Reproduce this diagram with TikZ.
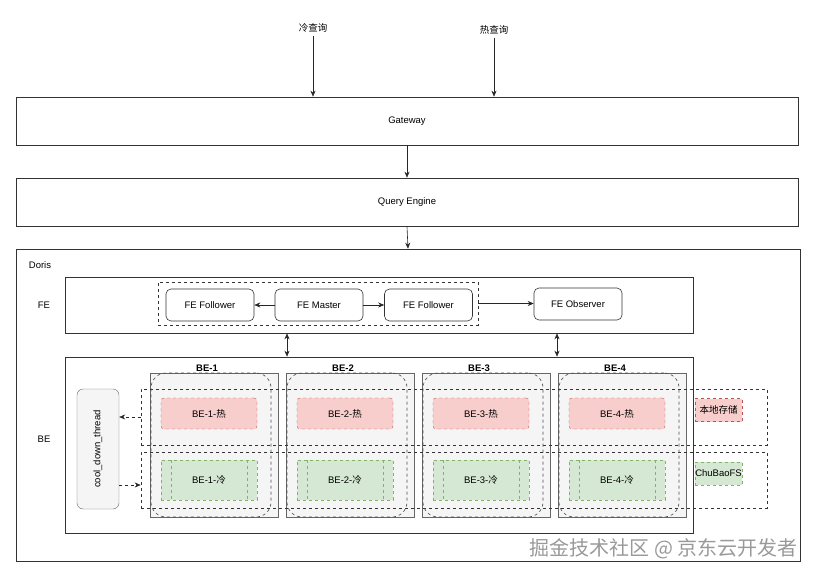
\documentclass[tikz,border=0pt]{standalone}
\usepackage{fontspec}
\setmainfont{Liberation Sans}
\newfontfamily\cjk{Noto Sans CJK SC}
\usetikzlibrary{arrows.meta,calc}

\definecolor{hotfill}{HTML}{F8CECC}
\definecolor{hotline}{HTML}{B85450}
\definecolor{coldfill}{HTML}{D5E8D4}
\definecolor{coldline}{HTML}{82B366}
\definecolor{grayfill}{HTML}{F5F5F5}
\definecolor{grayline}{HTML}{666666}

\tikzset{
  every node/.style={font=\fontsize{9.5}{11}\selectfont},
  box/.style={draw=black!80, line width=0.6pt, inner sep=0pt},
  rbox/.style={box, rounded corners=5pt, minimum width=88pt, minimum height=32pt},
  grp/.style={draw=black!80, dashed, line width=0.6pt, inner sep=0pt},
  hotbox/.style={draw=hotline, fill=hotfill, dashed, rounded corners=3pt, inner sep=0pt},
  coldbox/.style={draw=coldline, fill=coldfill, dashed, inner sep=0pt},
  colbox/.style={draw=grayline, fill=grayfill, line width=0.5pt, inner sep=0pt, minimum width=128pt, minimum height=144pt},
  arr/.style={-{Stealth[length=6pt,width=5pt]}, line width=0.6pt, black!85},
  dblarr/.style={{Stealth[length=6pt,width=5pt]}-{Stealth[length=6pt,width=5pt]}, line width=0.6pt, black!85},
}

\begin{document}
\begin{tikzpicture}[x=1pt,y=-1pt]
\useasboundingbox (0,0) rectangle (817,578);

% queries and top layers
\node (qcold) at (313,28) {\cjk 冷查询};
\node (qhot) at (494,30) {\cjk 热查询};
\node[box, minimum width=782pt, minimum height=48pt] (gw) at (407,121) {Gateway};
\node[box, minimum width=782pt, minimum height=48pt] (qe) at (407,202) {Query Engine};
\node[box, minimum width=784pt, minimum height=312pt] (doris) at (408,405) {};
\node (dorislbl) at (40,265) {Doris};

\draw[arr] (qcold.south) -- (qcold.south |- gw.north);
\draw[arr] (qhot.south) -- (qhot.south |- gw.north);
\draw[arr] (gw.south) -- (qe.north);
\draw[arr] (qe.south) -- (doris.north);

% FE
\node[box, minimum width=628pt, minimum height=56pt] (fe) at (379,305) {};
\node (felbl) at (44,305) {FE};
\node[grp, minimum width=320pt, minimum height=43pt] (fegrp) at (318,303.5) {};
\node[rbox] (fef1) at (210,305) {FE Follower};
\node[rbox] (fem) at (319,305) {FE Master};
\node[rbox] (fef2) at (428.5,305) {FE Follower};
\node[rbox] (feo) at (578,304) {FE Observer};
\draw[arr] (fem.west) -- (fef1.east);
\draw[arr] (fem.east) -- (fef2.west);
\draw[arr] (fegrp.east) -- (fegrp.east -| feo.west);

% BE
\node[box, minimum width=628pt, minimum height=176pt] (be) at (379,445) {};
\node (belbl) at (44,439) {BE};
\draw[dblarr] ([xshift=-92pt]fe.south) -- ([xshift=-92pt]be.north);
\draw[dblarr] ([xshift=178pt]fe.south) -- ([xshift=178pt]be.north);

\foreach \k in {0,1,2,3}
  \node[colbox] (col\k) at (214+136*\k,445) {};

\node[grp, minimum width=626pt, minimum height=56pt] (hotrow) at (454,417) {};
\node[grp, minimum width=626pt, minimum height=56pt] (coldrow) at (454,480) {};

\foreach \k [evaluate=\k as \n using int(\k+1)] in {0,1,2,3} {
  \node[grp, draw=black!70, rounded corners=15pt, minimum width=120pt, minimum height=144pt] (node\k) at (211+136*\k,445) {};
  \node[font=\fontsize{9.5}{11}\selectfont\bfseries] (lbl\k) at (207+136*\k,368) {BE-\n};
  \node[hotbox, minimum width=96pt, minimum height=31pt] (hot\k) at (209+136*\k,413.5) {BE-\n-{\cjk 热}};
  \node[coldbox, minimum width=96pt, minimum height=40pt] (cold\k) at (209+136*\k,480) {BE-\n-{\cjk 冷}};
  \draw[coldline, dashed] ([xshift=10pt]cold\k.north west) -- ([xshift=10pt]cold\k.south west);
  \draw[coldline, dashed] ([xshift=-10pt]cold\k.north east) -- ([xshift=-10pt]cold\k.south east);
}

\node[hotbox, rounded corners=0pt, minimum width=47pt, minimum height=23pt] (local) at (718.5,410) {\cjk 本地存储};
\node[coldbox, minimum width=47pt, minimum height=23pt] (chubao) at (718.5,473.5) {ChuBaoFS};

\node[draw=grayline, fill=grayfill, rounded corners=6pt, minimum width=42pt, minimum height=120pt] (cool) at (98,449) {};
\node[rotate=90] (coollbl) at (cool.center) {cool\_down\_thread};
\draw[arr, dashed] (hotrow.west) -- (hotrow.west -| cool.east);
\draw[arr, dashed] ([yshift=-5pt]coldrow.west -| cool.east) -- ([yshift=-5pt]coldrow.west);

% watermark
\node[text=black!40, font=\fontsize{20}{22}\selectfont\cjk, anchor=east] (mark) at (801,549) {掘金技术社区 @ 京东云开发者};
\end{tikzpicture}
\end{document}
